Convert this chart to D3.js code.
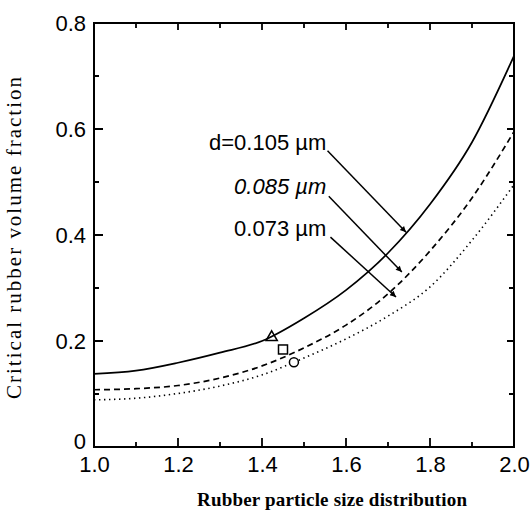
<!DOCTYPE html>
<html>
<head>
<meta charset="utf-8">
<script src="https://cdn.jsdelivr.net/npm/d3@7"></script>
<style>
  body { margin: 0; background: #fff; }
  svg { display: block; }
</style>
</head>
<body>
<svg id="chart" width="531" height="513"></svg>
<script>
// particle size distribution (x) and critical volume fraction curves
const sizeDist = [1.0, 1.1, 1.2, 1.3, 1.4, 1.5, 1.6, 1.7, 1.8, 1.9, 2.0];
const d105 = [0.138, 0.144, 0.159, 0.178, 0.200, 0.243, 0.296, 0.366, 0.458, 0.575, 0.738];
const d085 = [0.108, 0.110, 0.116, 0.130, 0.153, 0.187, 0.230, 0.289, 0.370, 0.470, 0.595];
const d073 = [0.089, 0.092, 0.101, 0.115, 0.136, 0.168, 0.204, 0.247, 0.302, 0.390, 0.495];

// experimental points
const triPoint = [1.423, 0.207];
const sqPoint = [1.450, 0.184];
const circPoint = [1.476, 0.160];

const xTicks = [1.0, 1.2, 1.4, 1.6, 1.8, 2.0];
const yTicks = [0, 0.2, 0.4, 0.6, 0.8];
const xMinor = [1.1, 1.3, 1.5, 1.7, 1.9];
const yMinor = [0.1, 0.3, 0.5, 0.7];

// label text, anchor (right end) and arrow tip, in data units
const labels = ['d=0.105 \u00b5m', '0.085 \u00b5m', '0.073 \u00b5m'];
const labelPos = [[1.553, 0.561], [1.553, 0.477], [1.553, 0.398]];
const arrowFrom = [[1.556, 0.559], [1.559, 0.473], [1.563, 0.396]];
const arrowTo = [[1.743, 0.405], [1.733, 0.330], [1.719, 0.283]];

const svg = d3.select('#chart');
const margin = { top: 23, right: 17, bottom: 66, left: 94 };
const width = 531 - margin.left - margin.right;
const height = 513 - margin.top - margin.bottom;

const x = d3.scaleLinear().domain([1, 2]).range([0, width]);
const y = d3.scaleLinear().domain([0, 0.8]).range([height, 0]);

const g = svg.append('g').attr('transform', `translate(${margin.left},${margin.top})`);

function styleAxis(sel) {
  sel.select('.domain').remove();
  sel.selectAll('line').remove();
  sel.selectAll('text')
    .attr('font-family', 'Liberation Sans, Arial, sans-serif')
    .attr('font-size', 22)
    .attr('fill', '#000');
}

// tick labels
g.append('g').attr('transform', `translate(0,${height})`)
  .call(d3.axisBottom(x).tickValues(xTicks).tickSize(0).tickPadding(9).tickFormat(d3.format('.1f')))
  .call(styleAxis);
g.append('g')
  .call(d3.axisLeft(y).tickValues(yTicks).tickSize(0).tickPadding(8).tickFormat(d => d === 0 ? '0' : d3.format('.1f')(d)))
  .call(styleAxis)
  .selectAll('.tick')
  .filter(d => d === 0)
  .select('text').attr('dy', '0.05em');

// inward tick marks on all four sides, as one path
const tickPath = d3.path();
xTicks.forEach(d => {
  tickPath.moveTo(x(d), height); tickPath.lineTo(x(d), height - 9);
  tickPath.moveTo(x(d), 0); tickPath.lineTo(x(d), 7);
});
xMinor.forEach(d => {
  tickPath.moveTo(x(d), height); tickPath.lineTo(x(d), height - 5);
  tickPath.moveTo(x(d), 0); tickPath.lineTo(x(d), 5);
});
yTicks.forEach(d => {
  tickPath.moveTo(0, y(d)); tickPath.lineTo(9, y(d));
  tickPath.moveTo(width, y(d)); tickPath.lineTo(width - 7, y(d));
});
yMinor.forEach(d => {
  tickPath.moveTo(0, y(d)); tickPath.lineTo(5, y(d));
  tickPath.moveTo(width, y(d)); tickPath.lineTo(width - 5, y(d));
});
g.append('path')
  .attr('d', tickPath.toString())
  .attr('fill', 'none')
  .attr('stroke', '#000')
  .attr('stroke-width', 1.8);

// frame
g.append('rect')
  .attr('width', width).attr('height', height)
  .attr('fill', 'none').attr('stroke', '#000').attr('stroke-width', 2);

// curves
const line = d3.line()
  .x((d, i) => x(sizeDist[i]))
  .y(d => y(d))
  .curve(d3.curveMonotoneX);

g.append('path').datum(d105).attr('d', line)
  .attr('fill', 'none').attr('stroke', '#000').attr('stroke-width', 1.7);
g.append('path').datum(d085).attr('d', line)
  .attr('fill', 'none').attr('stroke', '#000').attr('stroke-width', 1.7)
  .attr('stroke-dasharray', '6,4');
g.append('path').datum(d073).attr('d', line)
  .attr('fill', 'none').attr('stroke', '#000').attr('stroke-width', 1.6)
  .attr('stroke-dasharray', '1.4,3.6');

// markers
g.append('path')
  .attr('d', d3.symbol(d3.symbolTriangle, 55)())
  .attr('transform', `translate(${x(triPoint[0])},${y(triPoint[1])})`)
  .attr('fill', 'none').attr('stroke', '#000').attr('stroke-width', 1.5);
g.append('rect')
  .attr('x', x(sqPoint[0]) - 4.5).attr('y', y(sqPoint[1]) - 4.5)
  .attr('width', 9).attr('height', 9)
  .attr('fill', '#fff').attr('stroke', '#000').attr('stroke-width', 1.5);
g.append('circle')
  .attr('cx', x(circPoint[0])).attr('cy', y(circPoint[1])).attr('r', 4.5)
  .attr('fill', '#fff').attr('stroke', '#000').attr('stroke-width', 1.5);

// arrow heads
svg.append('defs').append('marker')
  .attr('id', 'arrow')
  .attr('viewBox', '0 0 10 10')
  .attr('refX', 10).attr('refY', 5)
  .attr('markerWidth', 9).attr('markerHeight', 6)
  .attr('markerUnits', 'userSpaceOnUse')
  .attr('orient', 'auto')
  .append('path').attr('d', 'M0,0L10,5L0,10Z').attr('fill', '#000');

labels.forEach((t, i) => {
  g.append('text')
    .attr('x', x(labelPos[i][0])).attr('y', y(labelPos[i][1]))
    .attr('text-anchor', 'end')
    .attr('font-family', 'Liberation Sans, Arial, sans-serif')
    .attr('font-size', 22)
    .attr('font-style', i === 1 ? 'italic' : 'normal')
    .text(t);
  g.append('line')
    .attr('x1', x(arrowFrom[i][0])).attr('y1', y(arrowFrom[i][1]))
    .attr('x2', x(arrowTo[i][0])).attr('y2', y(arrowTo[i][1]))
    .attr('stroke', '#000').attr('stroke-width', 1.5)
    .attr('marker-end', 'url(#arrow)');
});

// axis titles
svg.append('text')
  .attr('x', 332).attr('y', 506)
  .attr('text-anchor', 'middle')
  .attr('font-family', 'Liberation Serif, Times New Roman, serif')
  .attr('font-weight', 'bold')
  .attr('font-size', 19)
  .attr('textLength', 270)
  .text('Rubber particle size distribution');

svg.append('text')
  .attr('transform', 'translate(21,238) rotate(-90)')
  .attr('text-anchor', 'middle')
  .attr('font-family', 'Liberation Serif, Times New Roman, serif')
  .attr('font-size', 21)
  .attr('textLength', 322)
  .text('Critical rubber volume fraction');
</script>
</body>
</html>
